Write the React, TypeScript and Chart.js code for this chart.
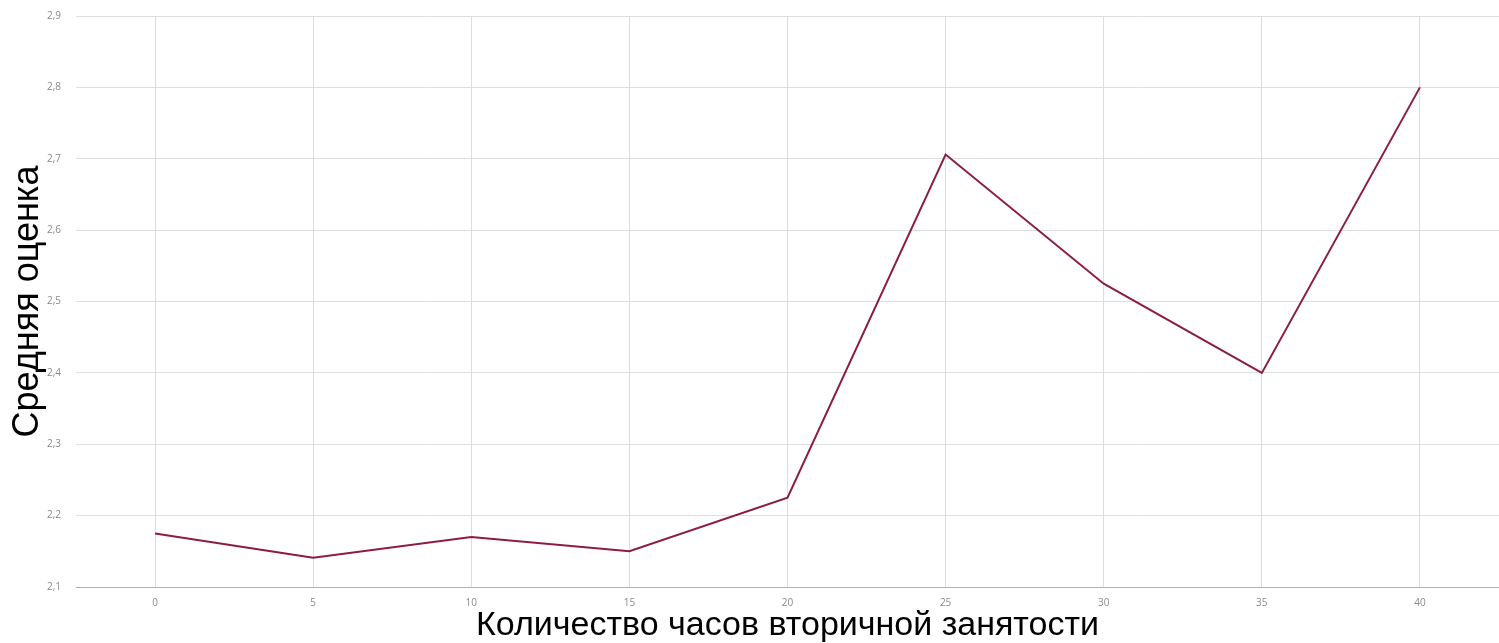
import React, { useEffect, useRef } from "react";
import { Chart, registerables } from "chart.js";

Chart.register(...registerables);

const hours = ["0", "5", "10", "15", "20", "25", "30", "35", "40"];
const avgScore = [2.175, 2.141, 2.17, 2.15, 2.225, 2.706, 2.525, 2.4, 2.8];
const yTicksMin = 2.1;
const yTicksMax = 2.9;
const yStep = 0.1;
const xTitle = "Количество часов вторичной занятости";
const yTitle = "Средняя оценка";

export default function App() {
  const ref = useRef<HTMLCanvasElement | null>(null);

  useEffect(() => {
    if (!ref.current) return;
    const chart = new Chart(ref.current, {
      type: "line",
      data: {
        labels: hours,
        datasets: [
          {
            data: avgScore,
            borderColor: "#8c1d3f",
            borderWidth: 2,
            pointRadius: 0,
            tension: 0,
            fill: false,
          },
        ],
      },
      options: {
        animation: false,
        responsive: true,
        maintainAspectRatio: false,
        layout: { padding: { top: 16, left: 0, right: 0, bottom: 0 } },
        plugins: {
          legend: { display: false },
          tooltip: { enabled: false },
        },
        scales: {
          x: {
            offset: true,
            afterFit: (scale: any) => {
              scale.height = 56;
            },
            grid: {
              color: "#dedede",
              drawTicks: false,
              offset: false,
            },
            border: { color: "#b0b0b0", width: 1 },
            ticks: {
              padding: 10,
              color: "#8a8a8a",
              font: { family: "'Open Sans', sans-serif", size: 10 },
              maxRotation: 0,
            },
            title: {
              display: true,
              text: xTitle,
              color: "#000",
              font: { family: "'Liberation Sans', Arial, sans-serif", size: 34, lineHeight: 1 },
              padding: { top: 0, bottom: 0 },
            },
          },
          y: {
            min: yTicksMin,
            max: yTicksMax,
            afterFit: (scale: any) => {
              scale.width = 76;
            },
            grid: {
              color: "#dedede",
              drawTicks: true,
              tickLength: 15,
              tickColor: "rgba(0,0,0,0)",
            },
            border: { display: false },
            ticks: {
              stepSize: yStep,
              padding: 0,
              color: "#8a8a8a",
              font: { family: "'Open Sans', sans-serif", size: 10 },
              callback: (v: any) => Number(v).toFixed(1).replace(".", ","),
            },
            title: {
              display: true,
              text: yTitle,
              color: "#000",
              font: { family: "'Liberation Sans', Arial, sans-serif", size: 36, lineHeight: 1 },
              padding: { top: 10, bottom: 0 },
            },
          },
        },
      },
    });
    return () => chart.destroy();
  }, []);

  return (
    <div
      style={{
        position: "fixed",
        left: 0,
        top: 0,
        width: 1499,
        height: 643,
        background: "#fff",
      }}
    >
      <canvas ref={ref} />
    </div>
  );
}
